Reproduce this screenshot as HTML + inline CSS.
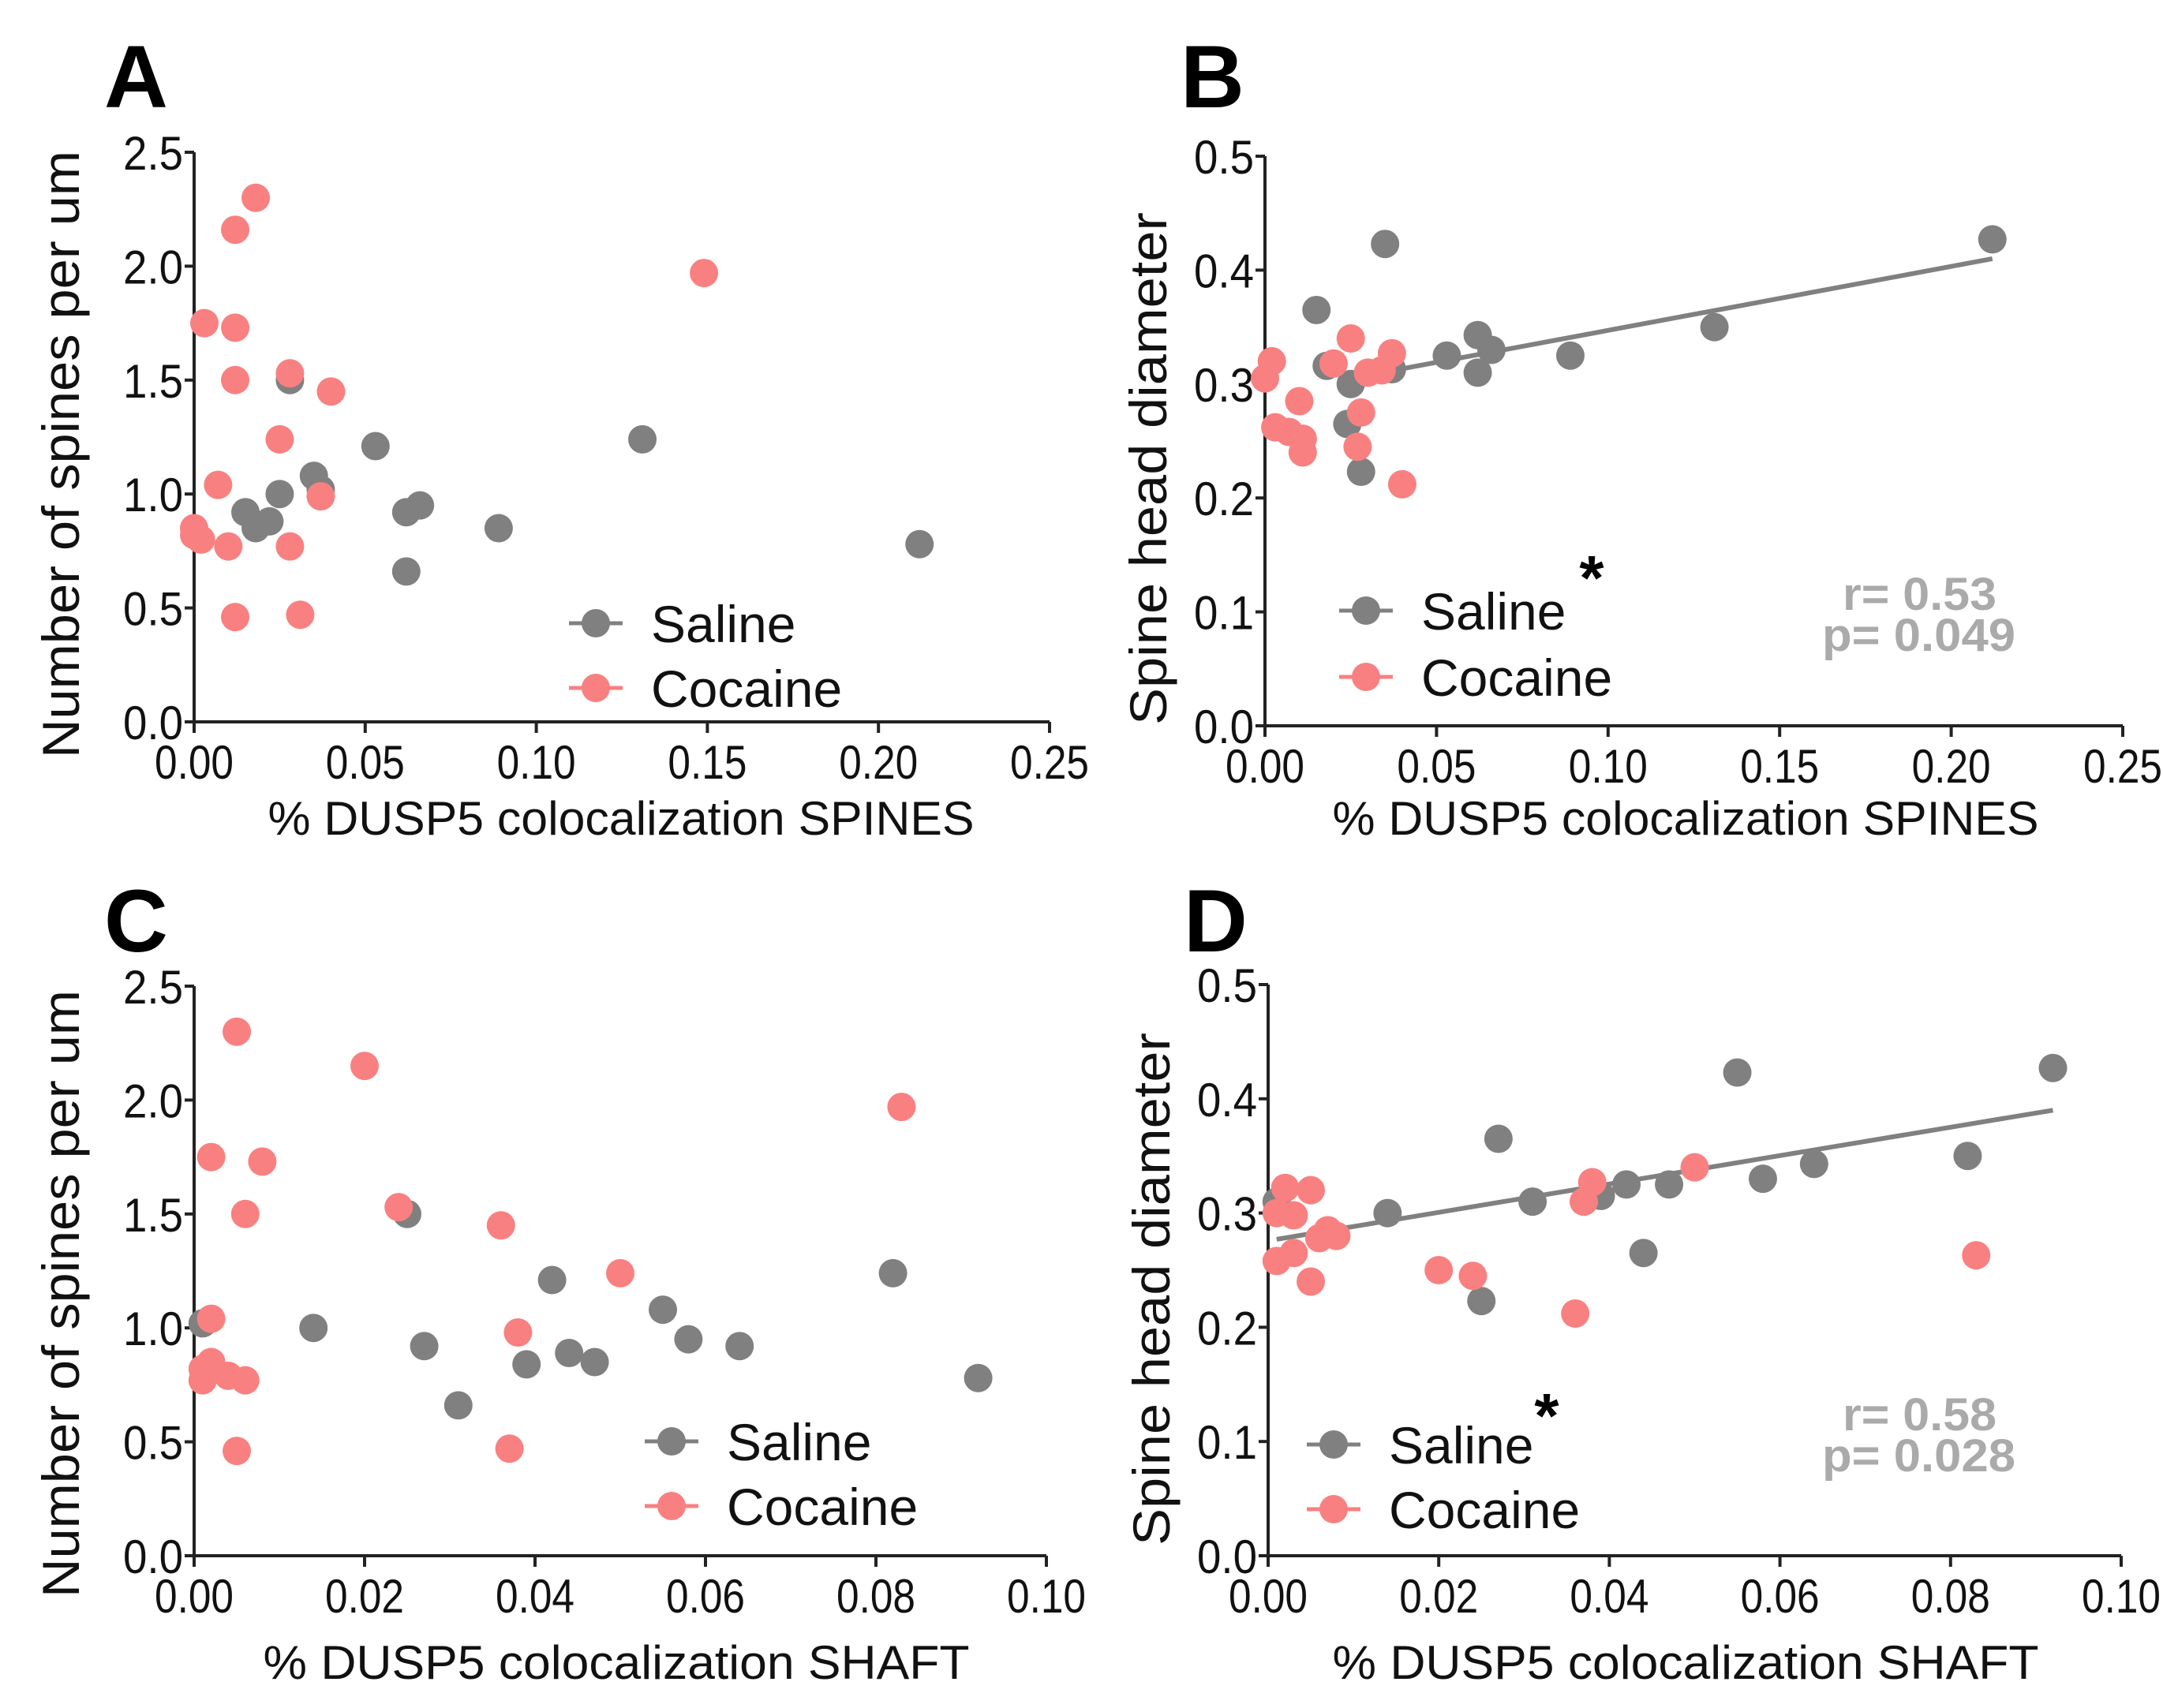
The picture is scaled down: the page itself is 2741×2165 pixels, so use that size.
<!DOCTYPE html>
<html><head><meta charset="utf-8"><style>
html,body{margin:0;padding:0;background:#fff}
svg{display:block}
text{font-family:"Liberation Sans Narrow","Liberation Sans",sans-serif}
</style></head><body>
<svg id="fig" xmlns="http://www.w3.org/2000/svg" width="2741" height="2165" viewBox="0 0 2741 2165"></svg>
<script>
// Panel A: spines density vs spine colocalization
const aSalineX=[0.015,0.018,0.022,0.025,0.028,0.035,0.037,0.053,0.062,0.066,0.062,0.089,0.131,0.212];
const aSalineY=[0.92,0.85,0.88,1.00,1.50,1.08,1.02,1.21,0.92,0.95,0.66,0.85,1.24,0.78];
const aCocX=[0.018,0.012,0.003,0.012,0.012,0.028,0.040,0.025,0.007,0.037,0.000,0.002,0.000,0.010,0.028,0.012,0.031,0.149];
const aCocY=[2.30,2.16,1.75,1.73,1.50,1.53,1.45,1.24,1.04,0.99,0.85,0.80,0.82,0.77,0.77,0.46,0.47,1.97];
// Panel B: spine head diameter vs spine colocalization
const bSalineX=[0.015,0.035,0.018,0.025,0.024,0.028,0.037,0.053,0.062,0.066,0.062,0.089,0.131,0.212];
const bSalineY=[0.365,0.423,0.316,0.300,0.265,0.223,0.313,0.325,0.343,0.330,0.310,0.325,0.350,0.427];
const bCocX=[0.000,0.002,0.003,0.007,0.010,0.011,0.011,0.020,0.025,0.028,0.027,0.030,0.037,0.040,0.034];
const bCocY=[0.305,0.320,0.262,0.258,0.285,0.252,0.240,0.318,0.340,0.275,0.245,0.310,0.327,0.212,0.312];
const bFitX=[0.025,0.212];
const bFitY=[0.305,0.410];
// Panel C: spines density vs shaft colocalization
const cSalineX=[0.001,0.014,0.025,0.027,0.031,0.039,0.042,0.044,0.047,0.055,0.058,0.064,0.082,0.092];
const cSalineY=[1.02,1.00,1.50,0.92,0.66,0.84,1.21,0.89,0.85,1.08,0.95,0.92,1.24,0.78];
const cCocX=[0.005,0.020,0.002,0.008,0.006,0.024,0.036,0.050,0.002,0.038,0.001,0.002,0.004,0.006,0.001,0.005,0.037,0.083];
const cCocY=[2.30,2.15,1.75,1.73,1.50,1.53,1.45,1.24,1.04,0.98,0.82,0.85,0.79,0.77,0.77,0.46,0.47,1.97];
// Panel D: spine head diameter vs shaft colocalization
const dSalineX=[0.001,0.014,0.027,0.025,0.031,0.039,0.042,0.044,0.047,0.055,0.058,0.064,0.082,0.092];
const dSalineY=[0.310,0.300,0.365,0.223,0.310,0.315,0.325,0.265,0.325,0.423,0.330,0.343,0.350,0.427];
const dCocX=[0.001,0.002,0.005,0.003,0.001,0.003,0.006,0.007,0.008,0.005,0.020,0.024,0.036,0.037,0.038,0.050,0.083];
const dCocY=[0.300,0.322,0.320,0.298,0.258,0.265,0.278,0.285,0.280,0.240,0.250,0.245,0.212,0.310,0.327,0.340,0.263];
const dFitX=[0.001,0.092];
const dFitY=[0.277,0.390];
const ticksX1=["0.00","0.05","0.10","0.15","0.20","0.25"];
const ticksX2=["0.00","0.02","0.04","0.06","0.08","0.10"];
const ticksY1=["0.0","0.5","1.0","1.5","2.0","2.5"];
const ticksY2=["0.0","0.1","0.2","0.3","0.4","0.5"];

const NS="http://www.w3.org/2000/svg";
const svg=document.getElementById('fig');
function mk(tag,attrs,parent,txt){const e=document.createElementNS(NS,tag);for(const k in attrs)e.setAttribute(k,attrs[k]);if(txt!==undefined)e.textContent=txt;(parent||svg).appendChild(e);return e;}
const GRAY="#808080",PINK="#f98080";

function panel(p){
  const g=mk('g',{});
  
  
  const sx=v=>p.x0+(v-p.xmin)/(p.xmax-p.xmin)*(p.x1-p.x0);
  const sy=v=>p.y0-(v-p.ymin)/(p.ymax-p.ymin)*(p.y0-p.y1);
  const L=mk('text',{x:p.lx,y:p.ly,'font-size':112,'font-weight':'bold',fill:'#000','font-family':'Liberation Sans, sans-serif'},g,p.id);
  
  
  const ax=mk('g',{stroke:'#222','stroke-width':4},g);
  
  
  mk('line',{x1:p.x0,y1:p.y0,x2:p.x0,y2:p.y1},ax);
  mk('line',{x1:p.x0-10,y1:p.y0,x2:p.x1,y2:p.y0},ax);
  p.tx.forEach((t,i)=>{
    const v=parseFloat(t),x=sx(v);
    mk('line',{x1:x,y1:p.y0,x2:x,y2:p.y0+14},ax);
    const tt=mk('text',{x:x,y:p.y0+72,'font-size':60,'text-anchor':'middle',fill:'#111',textLength:100,lengthAdjust:'spacingAndGlyphs'},g,t);
    
    
  });
  p.ty.forEach((t,i)=>{
    const v=parseFloat(t),y=sy(v);
    mk('line',{x1:p.x0-12,y1:y,x2:p.x0,y2:y},ax);
    const tt=mk('text',{x:p.x0-14,y:y+22,'font-size':60,'text-anchor':'end',fill:'#111',textLength:76,lengthAdjust:'spacingAndGlyphs'},g,t);
    
    
  });
  const xt=mk('text',{x:p.xtx,y:p.xty,'font-size':60,'text-anchor':'middle',fill:'#111',textLength:895,lengthAdjust:'spacingAndGlyphs'},g,p.xtitle);
  
  
  const yt=mk('text',{x:0,y:0,'font-size':66,'text-anchor':'middle',fill:'#111',transform:`translate(${p.ytx},${p.yty}) rotate(-90)`,textLength:p.ytl,lengthAdjust:'spacingAndGlyphs','font-family':'Liberation Sans, sans-serif'},g,p.ytitle);
  
  
  if(p.fx){
    const ln=mk('line',{x1:sx(p.fx[0]),y1:sy(p.fy[0]),x2:sx(p.fx[1]),y2:sy(p.fy[1]),stroke:GRAY,'stroke-width':6},g);
    
    
  }
  const sg=mk('g',{fill:GRAY},g);
  
  
  p.sX.forEach((v,i)=>{const c=mk('circle',{cx:sx(v),cy:sy(p.sY[i]),r:18},sg);
    
    });
  const cg=mk('g',{fill:PINK},g);
  
  
  p.cX.forEach((v,i)=>{const c=mk('circle',{cx:sx(v),cy:sy(p.cY[i]),r:18},cg);
    
    });
  const lg=mk('g',{},g);
  
  
  [[GRAY,'Saline',p.legY1],[PINK,'Cocaine',p.legY2]].forEach(([col,lab,y])=>{
    const e=mk('g',{},lg);
    
    
    mk('line',{x1:p.legX-34,y1:y,x2:p.legX+34,y2:y,stroke:col,'stroke-width':5},e);
    mk('circle',{cx:p.legX,cy:y,r:18,fill:col},e);
    mk('text',{x:p.legX+70,y:y+24,'font-size':66,fill:'#111','font-family':'Liberation Sans, sans-serif'},e,lab);
  });
  if(p.star){
    const s=mk('text',{x:p.star[0],y:p.star[1],'font-size':80,'font-weight':'bold','text-anchor':'middle',fill:'#000','font-family':'Liberation Sans, sans-serif'},g,'*');
    
    
  }
  if(p.stat){
    const a=mk('text',{x:p.stat[0],y:p.stat[1],'font-size':58,'font-weight':'bold','text-anchor':'end',fill:'#aaa',textLength:195,lengthAdjust:'spacingAndGlyphs'},g,p.stat[2]);
    
    
    const b=mk('text',{x:p.stat[0]+24,y:p.stat[1]+52,'font-size':58,'font-weight':'bold','text-anchor':'end',fill:'#aaa',textLength:245,lengthAdjust:'spacingAndGlyphs'},g,p.stat[3]);
    
    
  }
}
panel({id:'A',lx:132,ly:136,x0:246,x1:1330,y0:915,y1:193,xmin:0,xmax:0.25,ymin:0,ymax:2.5,tx:ticksX1,ty:ticksY1,
  sX:aSalineX,sY:aSalineY,cX:aCocX,cY:aCocY,xtitle:'% DUSP5 colocalization SPINES',xtx:787,xty:1058,
  ytitle:'Number of spines per um',ytx:100,yty:576,ytl:770,legX:755,legY1:790,legY2:872});
panel({id:'B',lx:1496,ly:136,x0:1603,x1:2690,y0:920,y1:198,xmin:0,xmax:0.25,ymin:0,ymax:0.5,tx:ticksX1,ty:ticksY2,
  sX:bSalineX,sY:bSalineY,cX:bCocX,cY:bCocY,fx:bFitX,fy:bFitY,xtitle:'% DUSP5 colocalization SPINES',xtx:2136,xty:1058,
  ytitle:'Spine head diameter',ytx:1478,yty:594,ytl:650,legX:1731,legY1:774,legY2:858,star:[2017,760],stat:[2530,773,'r= 0.53','p= 0.049']});
panel({id:'C',lx:132,ly:1206,x0:246,x1:1326,y0:1972,y1:1250,xmin:0,xmax:0.10,ymin:0,ymax:2.5,tx:ticksX2,ty:ticksY1,
  sX:cSalineX,sY:cSalineY,cX:cCocX,cY:cCocY,xtitle:'% DUSP5 colocalization SHAFT',xtx:781,xty:2128,
  ytitle:'Number of spines per um',ytx:100,yty:1640,ytl:770,legX:851,legY1:1827,legY2:1909});
panel({id:'D',lx:1500,ly:1206,x0:1607,x1:2688,y0:1972,y1:1248,xmin:0,xmax:0.10,ymin:0,ymax:0.5,tx:ticksX2,ty:ticksY2,
  sX:dSalineX,sY:dSalineY,cX:dCocX,cY:dCocY,fx:dFitX,fy:dFitY,xtitle:'% DUSP5 colocalization SHAFT',xtx:2136,xty:2128,
  ytitle:'Spine head diameter',ytx:1482,yty:1634,ytl:650,legX:1690,legY1:1831,legY2:1913,star:[1960,1822],stat:[2530,1813,'r= 0.58','p= 0.028']});
</script>
</body></html>
